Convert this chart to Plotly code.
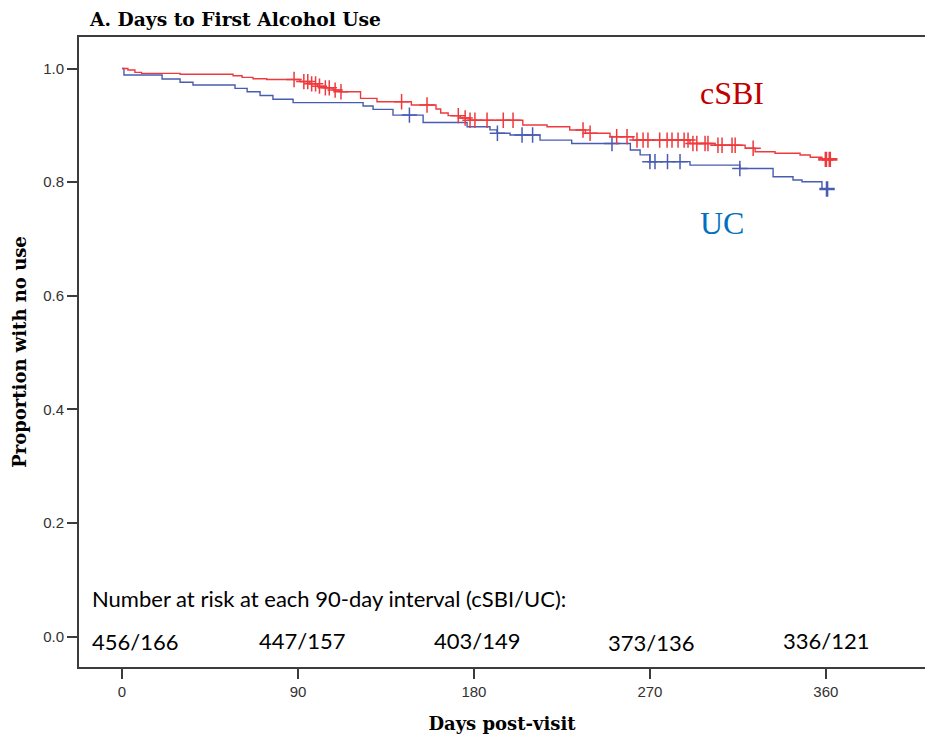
import numpy as np
import plotly.graph_objects as go

# ---- data ----
csbi_days = [0, 3, 6.6, 10, 29.7, 56.8, 61.4, 67, 74, 91, 96, 100, 104, 108, 111.5, 122, 130.4,
             148, 160.6, 163, 166.8, 173, 178, 205, 217.4, 229, 237, 249.6, 261.4, 290.5, 303.3,
             318.7, 323.8, 334, 346.8, 352, 358, 362]
csbi_surv = [1.0, 0.9974, 0.9933, 0.9915, 0.9898, 0.9873, 0.9845, 0.982, 0.9806, 0.977, 0.973,
             0.969, 0.966, 0.962, 0.959, 0.9475, 0.9415, 0.9357, 0.9287, 0.9217, 0.917, 0.913,
             0.909, 0.9005, 0.8975, 0.8917, 0.886, 0.88, 0.874, 0.868, 0.865, 0.8595, 0.8535,
             0.8507, 0.8477, 0.8437, 0.840, 0.840]
csbi_censor = [88, 93, 95, 97, 99, 101, 104, 106, 109, 112, 143, 156, 172, 175.5, 178, 180.5,
               186.7, 195, 200, 235.8, 239.4, 253, 258.3, 263.4, 266.5, 269, 275, 278.8, 281.3,
               284.4, 287.5, 289.5, 292, 294, 298.2, 299.7, 304.8, 306.9, 312, 313.6, 322.8,
               360, 362]

uc_days = [0, 1, 20.5, 29.7, 36.3, 57.8, 64, 70.6, 77.2, 87.5, 123.3, 128.4, 138.6, 154, 176.5,
           188.2, 191.8, 198.5, 213.8, 230, 260, 265, 270, 290.5, 316, 333, 343.2, 347.8, 358, 361]
uc_surv = [1.0, 0.9885, 0.9815, 0.9757, 0.971, 0.965, 0.959, 0.9525, 0.9458, 0.940, 0.934, 0.928,
           0.918, 0.905, 0.8975, 0.892, 0.886, 0.883, 0.874, 0.868, 0.8565, 0.848, 0.836, 0.830,
           0.824, 0.8095, 0.8037, 0.8007, 0.788, 0.788]
uc_censor = [147, 192, 204.6, 210, 250.6, 270, 272.6, 279, 285.4, 316, 360.6]

x_ticks = [0, 90, 180, 270, 360]
y_ticks = [0.0, 0.2, 0.4, 0.6, 0.8, 1.0]
y_tick_labels = ["0.0", "0.2", "0.4", "0.6", "0.8", "1.0"]
at_risk = ["456/166", "447/157", "403/149", "373/136", "336/121"]

RED = "rgb(238,58,62)"
BLUE = "rgb(72,92,178)"
AXIS = "rgb(60,60,60)"


def step_value(days, surv, t):
    idx = np.searchsorted(np.array(days), t, side="right") - 1
    return [surv[i] for i in idx]


def marker_widths(n, last_n):
    return [1.5] * (n - last_n) + [2.6] * last_n


fig = go.Figure()
fig.add_trace(go.Scatter(x=uc_days, y=uc_surv, mode="lines", line=dict(color=BLUE, width=1.4, shape="hv"),
                         showlegend=False, hoverinfo="skip"))
fig.add_trace(go.Scatter(x=csbi_days, y=csbi_surv, mode="lines", line=dict(color=RED, width=1.4, shape="hv"),
                         showlegend=False, hoverinfo="skip"))
fig.add_trace(go.Scatter(x=uc_censor, y=step_value(uc_days, uc_surv, uc_censor), mode="markers",
                         marker=dict(symbol="cross-thin", size=11,
                                     line=dict(color=BLUE, width=marker_widths(len(uc_censor), 1))),
                         showlegend=False, hoverinfo="skip"))
fig.add_trace(go.Scatter(x=csbi_censor, y=step_value(csbi_days, csbi_surv, csbi_censor), mode="markers",
                         marker=dict(symbol="cross-thin", size=11,
                                     line=dict(color=RED, width=marker_widths(len(csbi_censor), 2))),
                         showlegend=False, hoverinfo="skip"))

serif = "Liberation Serif, Times New Roman, serif"
wide_serif = "DejaVu Serif, serif"
calib = "Lato, Carlito, sans-serif"
tickfont = dict(family="Liberation Sans, Arial, sans-serif", size=15, color="rgb(50,50,50)")

W, H = 925, 739
L, R, T, B = 79, 0, 37, 72
pw, ph = W - L - R, H - T - B


def px(xs):
    return (xs - L) / pw


def py(ys):
    return (H - B - ys) / ph


annotations = [
    dict(text="cSBI", x=px(732), y=py(93), xref="paper", yref="paper", showarrow=False,
         font=dict(family=serif, size=32, color="rgb(192,0,0)"), xanchor="center", yanchor="middle"),
    dict(text="UC", x=px(722), y=py(223), xref="paper", yref="paper", showarrow=False,
         font=dict(family=serif, size=32, color="rgb(0,112,192)"), xanchor="center", yanchor="middle"),
    dict(text="Number at risk at each 90-day interval (cSBI/UC):", x=px(90), y=py(598), xref="paper",
         yref="paper", showarrow=False, font=dict(family=calib, size=22, color="black"),
         xanchor="left", yanchor="middle"),
]
risk_x = [90, 257, 432, 606, 781]
risk_y = [641, 640, 640, 642, 640]
for txt, xp, yp in zip(at_risk, risk_x, risk_y):
    annotations.append(dict(text=txt, x=px(xp), y=py(yp), xref="paper", yref="paper", showarrow=False,
                            font=dict(family=calib, size=22, color="black"), xanchor="left", yanchor="middle"))

fig.update_layout(
    width=W, height=H,
    margin=dict(l=L, r=R, t=T, b=B, autoexpand=False),
    plot_bgcolor="white", paper_bgcolor="white",
    title=dict(text="<b>A. Days to First Alcohol Use</b>", x=90 / W, xanchor="left",
               y=1 - 19 / H, yanchor="middle", font=dict(family=wide_serif, size=18.7, color="black")),
    annotations=annotations,
    xaxis=dict(range=[-22, 410.7], tickvals=x_ticks, ticktext=[str(v) for v in x_ticks],
               showgrid=False, zeroline=False, showline=True, linecolor=AXIS, linewidth=2,
               mirror=True, ticks="outside", ticklen=10, tickwidth=1.5, tickcolor=AXIS,
               tickfont=tickfont,
               title=dict(text="<b>Days post-visit</b>", font=dict(family=wide_serif, size=18, color="black"),
                          standoff=18)),
    yaxis=dict(range=[-0.0537, 1.0555], tickvals=y_ticks, ticktext=y_tick_labels,
               showgrid=False, zeroline=False, showline=True, linecolor=AXIS, linewidth=2,
               ticks="outside", ticklen=10, tickwidth=1.5, tickcolor=AXIS,
               tickfont=tickfont,
               title=dict(text="<b>Proportion with no use</b>", font=dict(family=wide_serif, size=18, color="black"),
                          standoff=12)),
)

fig.write_html("out.html", config={"displayModeBar": False},
               post_script="document.body.style.margin='0';document.body.style.overflow='hidden';")
